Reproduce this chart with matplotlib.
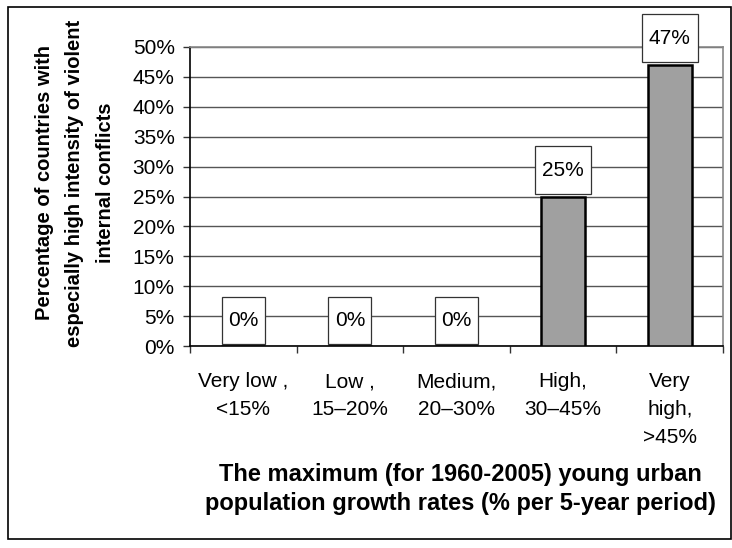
import matplotlib
matplotlib.use("Agg")
import matplotlib.pyplot as plt
import matplotlib.transforms as mtransforms
from matplotlib.patches import Rectangle
import numpy as np

plt.rcParams['font.family'] = ['Liberation Sans', 'DejaVu Sans']

categories = ["Very low ,\n<15%", "Low ,\n15–20%", "Medium,\n20–30%", "High,\n30–45%", "Very\nhigh,\n>45%"]
values = [0, 0, 0, 25, 47]
label_texts = ["0%", "0%", "0%", "25%", "47%"]
yticks = [0, 5, 10, 15, 20, 25, 30, 35, 40, 45, 50]
ytick_labels = ["0%", "5%", "10%", "15%", "20%", "25%", "30%", "35%", "40%", "45%", "50%"]

W, H = 732, 548
FS = 15
fig = plt.figure(figsize=(W / 100, H / 100), dpi=100)
ax = fig.add_axes([190 / W, 1 - 346 / H, (723 - 190) / W, (346 - 47) / H])

x = np.arange(len(categories))
ax.bar(x, values, width=0.41, color='#A0A0A0', edgecolor='black', linewidth=1.8, zorder=3)

ax.set_xlim(-0.5, len(categories) - 0.5)
ax.set_ylim(0, 50)
ax.set_yticks(yticks)
ax.set_yticklabels(ytick_labels, fontsize=FS)
ax.yaxis.grid(True, color='#555555', linewidth=1.0, zorder=0)
ax.set_axisbelow(True)

# category ticks at boundaries, labels at centers
ax.set_xticks(np.arange(len(categories) + 1) - 0.5)
ax.set_xticklabels([])
ax.set_xticks(x, minor=True)
ax.set_xticklabels(categories, minor=True, fontsize=FS, linespacing=1.58, va='top')
ax.tick_params(axis='x', which='minor', length=0, pad=19)
ax.tick_params(axis='x', which='major', direction='out', length=5, width=1, color='#333333')
ax.tick_params(axis='y', direction='out', length=5, width=1, color='#333333', pad=6)

for s in ['left', 'bottom']:
    ax.spines[s].set_color('black')
    ax.spines[s].set_linewidth(1.2)
for s in ['top', 'right']:
    ax.spines[s].set_color('#888888')
    ax.spines[s].set_linewidth(1.2)

# data labels in boxes
box_w = [0.43, 0.43, 0.43, 0.56, 0.56]
box_h = [0.47, 0.47, 0.47, 0.48, 0.48]
gap = 0.025
for i, (v, t) in enumerate(zip(values, label_texts)):
    tr = fig.dpi_scale_trans + mtransforms.ScaledTranslation(x[i], v, ax.transData)
    rect = Rectangle((-box_w[i] / 2, gap), box_w[i], box_h[i], transform=tr,
                     facecolor='white', edgecolor='#333333', linewidth=0.9,
                     zorder=5, clip_on=False)
    fig.add_artist(rect)
    fig.text(0, gap + box_h[i] / 2, t, transform=tr, ha='center', va='center',
             fontsize=FS, zorder=6)

# y label
fig.text(75 / W, 1 - 183 / H,
         "Percentage of countries with\nespecially high intensity of violent\ninternal conflicts",
         rotation=90, ha='center', va='center', fontsize=14.5, fontweight='bold',
         multialignment='center', linespacing=1.74)

# x label
fig.text(460 / W, 1 - 489 / H,
         "The maximum (for 1960-2005) young urban\npopulation growth rates (% per 5-year period)",
         ha='center', va='center', fontsize=17, fontweight='bold',
         multialignment='center', linespacing=1.28)

# outer frame
frame = Rectangle((8 / W, 1 - 539 / H), (731 - 8) / W, (539 - 7) / H,
                  transform=fig.transFigure, fill=False, edgecolor='black',
                  linewidth=1.2, zorder=0)
fig.add_artist(frame)

fig.savefig("out.png", dpi=100)
